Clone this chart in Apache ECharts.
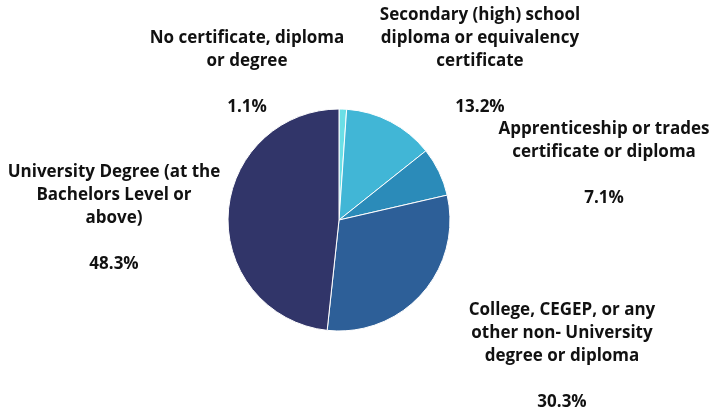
<!DOCTYPE html>
<html>
<head>
<meta charset="utf-8">
<script src="https://cdn.jsdelivr.net/npm/echarts@6/dist/echarts.min.js"></script>
<style>
  html, body { margin: 0; padding: 0; background: #ffffff; }
  #chart { width: 714px; height: 417px; }
</style>
</head>
<body>
<div id="chart"></div>
<script>
// Highest level of education attained (share of respondents, %)
const categories = [
  'No certificate, diploma\nor degree',
  'Secondary (high) school\ndiploma or equivalency\ncertificate',
  'Apprenticeship or trades\ncertificate or diploma',
  'College, CEGEP, or any\nother non- University\ndegree or diploma',
  'University Degree (at the\nBachelors Level or\nabove)'
];
const values = [1.1, 13.2, 7.1, 30.3, 48.3];
const colors = ['#6bdfe6', '#41b6d6', '#2b8bb9', '#2d5f98', '#313569'];

// Where each label block is centred (pixels)
const labelSpots = [
  [247, 73],
  [480, 61],
  [604, 164],
  [562, 356],
  [114, 218]
];

const chart = echarts.init(document.getElementById('chart'), null, { renderer: 'canvas' });

chart.setOption({
  animation: false,
  backgroundColor: '#ffffff',
  series: [{
    type: 'pie',
    center: [339, 220],
    radius: 111,
    startAngle: 90,
    clockwise: true,
    avoidLabelOverlap: false,
    itemStyle: { borderColor: '#ffffff', borderWidth: 1 },
    label: {
      show: true,
      position: 'outside',
      formatter: p => p.name + '\n\n' + p.value.toFixed(1) + '%',
      fontFamily: '"Open Sans", sans-serif',
      fontWeight: 'bold',
      fontSize: 17,
      lineHeight: 23,
      color: '#111111',
      align: 'center'
    },
    labelLine: { show: false },
    labelLayout: p => ({
      x: labelSpots[p.dataIndex][0],
      y: labelSpots[p.dataIndex][1],
      align: 'center',
      verticalAlign: 'middle',
      hideOverlap: false
    }),
    emphasis: { disabled: true },
    data: categories.map((c, i) => ({
      name: c,
      value: values[i],
      itemStyle: { color: colors[i] }
    }))
  }]
});
</script>
</body>
</html>
